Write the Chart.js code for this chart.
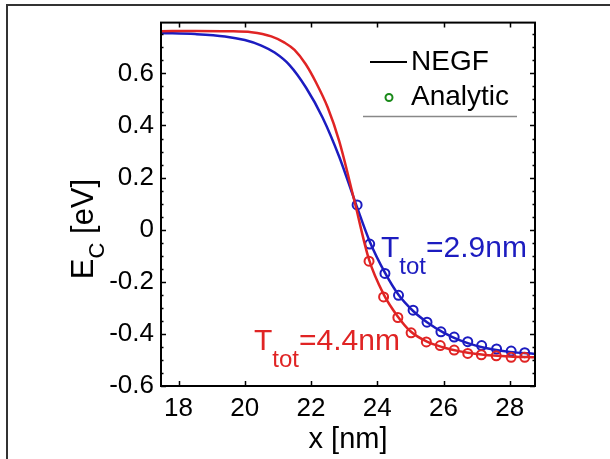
<!DOCTYPE html>
<html>
<head>
<meta charset="utf-8">
<script src="https://cdn.jsdelivr.net/npm/chart.js@4.4.1/dist/chart.umd.min.js"></script>
<style>
  html, body { margin: 0; padding: 0; background: #fff; }
  canvas { display: block; }
</style>
</head>
<body>
<canvas id="ecChart" width="610" height="459"></canvas>
<script>
// tick labels
const xTicks = [18, 20, 22, 24, 26, 28];
const yTicks = [-0.6, -0.4, -0.2, 0, 0.2, 0.4, 0.6];

// NEGF curves (x in nm, E_C in eV)
const negfBlueX = [17.47, 18.5, 19.4, 20.0, 20.5, 20.9, 21.35, 21.85, 22.35, 22.85, 23.35, 23.77, 24.23, 24.64, 25.08, 25.5, 26, 26.5, 27, 27.5, 28, 28.76];
const negfBlueY = [0.755, 0.751, 0.742, 0.728, 0.707, 0.68, 0.632, 0.545, 0.43, 0.28, 0.10, -0.045, -0.165, -0.25, -0.312, -0.355, -0.395, -0.425, -0.446, -0.46, -0.469, -0.477];

const negfRedX = [17.47, 18.5, 19.5, 20.2, 20.8, 21.2, 21.5, 21.84, 22.15, 22.5, 22.85, 23.3, 23.75, 24.2, 24.6, 25, 25.5, 26, 26.5, 27, 27.5, 28, 28.76];
const negfRedY = [0.762, 0.763, 0.762, 0.758, 0.742, 0.718, 0.69, 0.635, 0.565, 0.47, 0.34, 0.115, -0.115, -0.25, -0.33, -0.39, -0.43, -0.452, -0.467, -0.477, -0.483, -0.487, -0.49];

// analytic points
const anaBlueX = [23.39, 23.77, 24.23, 24.64, 25.08, 25.5, 25.92, 26.32, 26.73, 27.15, 27.6, 28.04, 28.45];
const anaBlueY = [0.095, -0.055, -0.168, -0.252, -0.309, -0.355, -0.392, -0.412, -0.43, -0.445, -0.458, -0.466, -0.472];

const anaRedX = [23.75, 24.19, 24.62, 25.02, 25.48, 25.9, 26.32, 26.73, 27.14, 27.59, 28.04, 28.45];
const anaRedY = [-0.121, -0.258, -0.337, -0.396, -0.431, -0.445, -0.462, -0.475, -0.48, -0.484, -0.49, -0.49];

const blue = '#1c1cc0';
const red = '#e02424';
const green = '#1a8a1a';
const font = '"Liberation Sans", Arial, sans-serif';

function pairs(xs, ys) {
    return xs.map((x, i) => ({ x: x, y: ys[i] }));
}

// frame, inward ticks, axis titles, legend and labels
const decor = {
    id: 'decor',
    beforeDraw(chart) {
        const ctx = chart.ctx;
        ctx.save();
        ctx.fillStyle = '#fff';
        ctx.fillRect(0, 0, chart.width, chart.height);
        ctx.strokeStyle = '#333';
        ctx.lineWidth = 2;
        ctx.beginPath();
        ctx.moveTo(7, 459);
        ctx.lineTo(7, 5);
        ctx.lineTo(610, 5);
        ctx.stroke();
        ctx.restore();
    },
    afterDraw(chart) {
        const ctx = chart.ctx,
            a = chart.chartArea,
            xs = chart.scales.x,
            ys = chart.scales.y;
        ctx.save();
        ctx.strokeStyle = '#000';
        ctx.lineWidth = 1.5;
        ctx.beginPath();
        xTicks.forEach(v => {
            let px = Math.round(xs.getPixelForValue(v)) + 0.5;
            ctx.moveTo(px, a.bottom); ctx.lineTo(px, a.bottom - 5);
            ctx.moveTo(px, a.top); ctx.lineTo(px, a.top + 5);
        });
        yTicks.forEach(v => {
            let py = Math.round(ys.getPixelForValue(v)) + 0.5;
            ctx.moveTo(a.left, py); ctx.lineTo(a.left + 5, py);
            ctx.moveTo(a.right, py); ctx.lineTo(a.right - 5, py);
        });
        for (let v = -0.55; v < ys.max; v += 0.05) {
            let py = Math.round(ys.getPixelForValue(v)) + 0.5;
            ctx.moveTo(a.left, py); ctx.lineTo(a.left + 2.5, py);
            ctx.moveTo(a.right, py); ctx.lineTo(a.right - 2.5, py);
        }
        ctx.stroke();

        ctx.lineWidth = 2;
        ctx.strokeRect(a.left, a.top, a.right - a.left, a.bottom - a.top);

        ctx.fillStyle = '#000';

        // x axis title
        ctx.font = '29px ' + font;
        ctx.textAlign = 'center';
        ctx.textBaseline = 'alphabetic';
        ctx.fillText('x [nm]', (a.left + a.right) / 2, 448);
        ctx.textAlign = 'left';

        // y axis title E_C [eV]
        ctx.save();
        ctx.translate(93, 229);
        ctx.rotate(-Math.PI / 2);
        ctx.font = '31px ' + font;
        let wE = ctx.measureText('E').width;
        ctx.font = '22px ' + font;
        let wC = ctx.measureText('C').width;
        ctx.font = '31px ' + font;
        let wR = ctx.measureText(' [eV]').width;
        let x0 = -(wE + wC + wR) / 2;
        ctx.fillText('E', x0, 0);
        ctx.font = '22px ' + font;
        ctx.fillText('C', x0 + wE, 11);
        ctx.font = '31px ' + font;
        ctx.fillText(' [eV]', x0 + wE + wC, 0);
        ctx.restore();

        // legend
        ctx.strokeStyle = '#000';
        ctx.lineWidth = 2;
        ctx.beginPath();
        ctx.moveTo(370, 62); ctx.lineTo(407, 62);
        ctx.stroke();
        ctx.strokeStyle = green;
        ctx.beginPath();
        ctx.arc(389, 97.5, 3.5, 0, Math.PI * 2);
        ctx.stroke();
        ctx.strokeStyle = '#888';
        ctx.lineWidth = 1.5;
        ctx.beginPath();
        ctx.moveTo(363, 116.5); ctx.lineTo(517, 116.5);
        ctx.stroke();
        ctx.font = '28px ' + font;
        ctx.textBaseline = 'middle';
        ctx.fillText('NEGF', 411, 62);
        ctx.fillText('Analytic', 411, 97);

        // curve labels
        function label(color, x, y, value) {
            ctx.fillStyle = color;
            ctx.textBaseline = 'alphabetic';
            ctx.font = '30px ' + font;
            ctx.fillText('T', x, y);
            let wT = ctx.measureText('T').width;
            ctx.font = '24px ' + font;
            ctx.fillText('tot', x + wT, y + 17);
            let wt = ctx.measureText('tot').width;
            ctx.font = '30px ' + font;
            ctx.fillText('=' + value, x + wT + wt, y);
        }
        label(blue, 381, 257, '2.9nm');
        label(red, 254, 350, '4.4nm');
        ctx.restore();
    }
};

new Chart(document.getElementById('ecChart'), {
    type: 'scatter',
    data: {
        datasets: [
            {
                data: pairs(negfRedX, negfRedY),
                showLine: true,
                borderColor: red,
                borderWidth: 2.5,
                pointRadius: 0,
                cubicInterpolationMode: 'monotone'
            },
            {
                data: pairs(anaRedX, anaRedY),
                showLine: false,
                pointRadius: 4.5,
                pointBorderWidth: 2,
                pointBorderColor: red,
                pointBackgroundColor: 'transparent'
            },
            {
                data: pairs(negfBlueX, negfBlueY),
                showLine: true,
                borderColor: blue,
                borderWidth: 2.5,
                pointRadius: 0,
                cubicInterpolationMode: 'monotone'
            },
            {
                data: pairs(anaBlueX, anaBlueY),
                showLine: false,
                pointRadius: 4.5,
                pointBorderWidth: 2,
                pointBorderColor: blue,
                pointBackgroundColor: 'transparent'
            }
        ]
    },
    options: {
        responsive: false,
        animation: false,
        layout: {
            padding: { left: 0, top: 14, right: 75, bottom: 0 }
        },
        plugins: {
            legend: { display: false },
            tooltip: { enabled: false }
        },
        scales: {
            x: {
                type: 'linear',
                min: 17.47,
                max: 28.76,
                afterBuildTicks: (scale) => { scale.ticks = xTicks.map(v => ({ value: v })); },
                afterFit: (scale) => { scale.height = 73; },
                grid: { display: false, drawTicks: false },
                border: { display: false },
                ticks: {
                    color: '#000',
                    font: { family: font, size: 26 },
                    padding: 7,
                    maxRotation: 0,
                    callback: (v) => String(v)
                }
            },
            y: {
                type: 'linear',
                min: -0.6,
                max: 0.795,
                afterBuildTicks: (scale) => { scale.ticks = yTicks.map(v => ({ value: v })); },
                afterFit: (scale) => { scale.width = 161; },
                grid: { display: false, drawTicks: false },
                border: { display: false },
                ticks: {
                    color: '#000',
                    font: { family: font, size: 26 },
                    padding: 7,
                    callback: (v) => v === 0 ? '0' : v.toFixed(1)
                }
            }
        }
    },
    plugins: [decor]
});
</script>
</body>
</html>
